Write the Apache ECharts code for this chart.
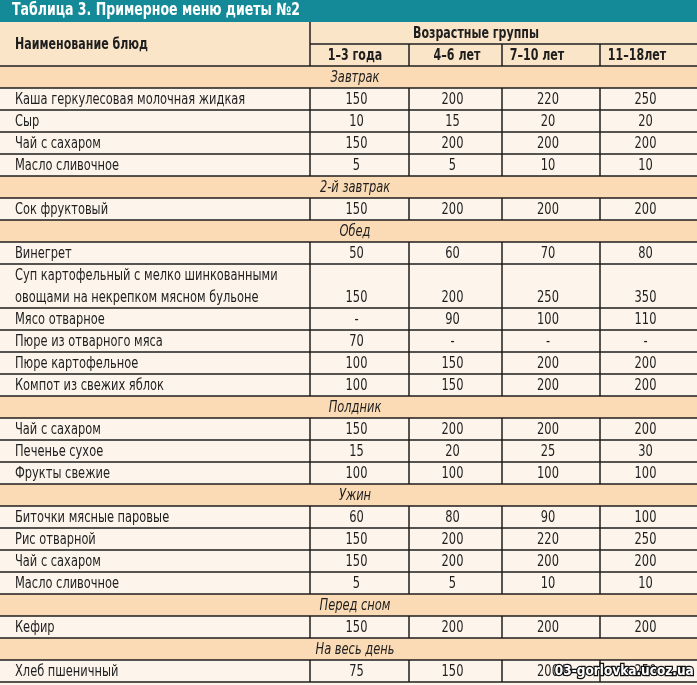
<!DOCTYPE html>
<html><head><meta charset="utf-8">
<script src="https://cdn.jsdelivr.net/npm/echarts@6/dist/echarts.min.js"></script>
<style>html,body{margin:0;padding:0;background:#fdf5ec}#c{width:697px;height:685px}</style>
</head><body><div id="c"></div>
<script>
// ---------- data ----------
const tableTitle = 'Таблица 3. Примерное меню диеты №2';
const nameHeader = 'Наименование блюд';
const groupHeader = 'Возрастные группы';
const ageGroups = ['1–3 года', '4–6 лет', '7–10 лет', '11–18лет'];
const sections = ['Завтрак', '2-й завтрак', 'Обед', 'Полдник', 'Ужин', 'Перед сном', 'На весь день'];
const dishesPerSection = [4, 1, 6, 3, 4, 1, 1];
const dishes = [
  'Каша геркулесовая молочная жидкая', 'Сыр', 'Чай с сахаром', 'Масло сливочное',
  'Сок фруктовый',
  'Винегрет', 'Суп картофельный с мелко шинкованными\nовощами на некрепком мясном бульоне', 'Мясо отварное',
  'Пюре из отварного мяса', 'Пюре картофельное', 'Компот из свежих яблок',
  'Чай с сахаром', 'Печенье сухое', 'Фрукты свежие',
  'Биточки мясные паровые', 'Рис отварной', 'Чай с сахаром', 'Масло сливочное',
  'Кефир',
  'Хлеб пшеничный'
];
const age1to3   = ['150', '10', '150', '5', '150', '50', '150', '-', '70', '100', '100', '150', '15', '100', '60', '150', '150', '5', '150', '75'];
const age4to6   = ['200', '15', '200', '5', '200', '60', '200', '90', '-', '150', '150', '200', '20', '100', '80', '200', '200', '5', '200', '150'];
const age7to10  = ['220', '20', '200', '10', '200', '70', '250', '100', '-', '200', '200', '200', '25', '100', '90', '220', '200', '10', '200', '200'];
const age11to18 = ['250', '20', '200', '10', '200', '80', '350', '110', '-', '200', '200', '200', '30', '100', '100', '250', '200', '10', '200', '250'];
const watermark = '03-gorlovka.ucoz.ua';

// ---------- layout ----------
const colEdges = [0, 310, 409, 502, 600, 697];
const headLabelX = [355, 457, 537, 637];
const groupHeaderX = 476;
const sectionX = 355;
const valueShift = -3;
const SX = 0.82;
const FONT = '"Liberation Sans Narrow", "DejaVu Sans Condensed", sans-serif';
const C = { title: '#148a98', head: '#fbe5c9', section: '#fadbb6', body: '#fdf5ec', line: '#1e1e1e', text: '#1e1e1e' };

const valueCols = [age1to3, age4to6, age7to10, age11to18];
const cells = [];
cells.push({ x0: 0, x1: 697, y0: 0, y1: 1, kind: 'title', text: tableTitle, tx: 12, align: 'left' });
cells.push({ x0: 0, x1: 310, y0: 1, y1: 3, kind: 'head', text: nameHeader, tx: 15, align: 'left', bold: true, lines: ['b'] });
cells.push({ x0: 310, x1: 697, y0: 1, y1: 2, kind: 'head', text: groupHeader, tx: groupHeaderX, align: 'center', bold: true, lines: ['b', 'l'] });
ageGroups.forEach((g, i) => cells.push({ x0: colEdges[i + 1], x1: colEdges[i + 2], y0: 2, y1: 3, kind: 'head', text: g, tx: headLabelX[i], align: 'center', bold: true, lines: ['b', 'l'] }));
let row = 3, di = 0;
sections.forEach((s, si) => {
  cells.push({ x0: 0, x1: 697, y0: row, y1: row + 1, kind: 'section', text: s, tx: sectionX, align: 'center', italic: true, lines: ['b'] });
  row += 1;
  for (let k = 0; k < dishesPerSection[si]; k++, di++) {
    const span = dishes[di].split('\n').length;
    cells.push({ x0: 0, x1: 310, y0: row, y1: row + span, kind: 'body', text: dishes[di], tx: 15, align: 'left', lines: ['b'] });
    valueCols.forEach((col, ci) => {
      const a = colEdges[ci + 1], b = colEdges[ci + 2];
      cells.push({ x0: a, x1: b, y0: row, y1: row + span, kind: 'body', text: col[di], tx: (a + b) / 2 + valueShift, ty: row + span - 0.5, align: 'center', lines: ['b', 'l'] });
    });
    row += span;
  }
});
const ROWS = row;

const cellData = cells.map(c => [c.x0, c.y0, c.x1, c.y1]);

function bgItem(params, api) {
  const c = cells[params.dataIndex];
  const p0 = api.coord([c.x0, c.y0]), p1 = api.coord([c.x1, c.y1]);
  return { type: 'rect', shape: { x: p0[0], y: p0[1], width: p1[0] - p0[0], height: p1[1] - p0[1] }, style: { fill: C[c.kind] } };
}
function fgItem(params, api) {
  const c = cells[params.dataIndex];
  const p0 = api.coord([c.x0, c.y0]), p1 = api.coord([c.x1, c.y1]);
  const children = [];
  (c.lines || []).forEach(l => {
    const shape = l === 'b' ? { x1: p0[0], y1: p1[1], x2: p1[0], y2: p1[1] } : { x1: p0[0], y1: p0[1], x2: p0[0], y2: p1[1] };
    children.push({ type: 'line', shape, style: { stroke: C.line, lineWidth: 1.5 } });
  });
  const tx = api.coord([c.tx, 0])[0];
  const ty = c.ty != null ? api.coord([0, c.ty])[1] : (p0[1] + p1[1]) / 2;
  let font, dy = 1;
  if (c.kind === 'title') { font = 'bold 17px ' + FONT; dy = 0; }
  else if (c.bold) font = 'bold 15px ' + FONT;
  else if (c.italic) font = 'italic 15.5px ' + FONT;
  else font = '15.5px ' + FONT;
  children.push({ type: 'text', x: tx, y: ty + dy, scaleX: SX, style: { text: c.text, font, fill: c.kind === 'title' ? '#ffffff' : C.text, align: c.align, verticalAlign: 'middle', lineHeight: 22 } });
  return { type: 'group', children };
}

const chart = echarts.init(document.getElementById('c'), null, { renderer: 'canvas' });
chart.setOption({
  animation: false,
  backgroundColor: C.body,
  grid: { left: 0, right: 0, top: 0, bottom: 685 - ROWS * 22 },
  xAxis: { type: 'value', min: 0, max: 697, show: false },
  yAxis: { type: 'value', min: 0, max: ROWS, inverse: true, show: false },
  series: [
    { type: 'custom', z: 1, renderItem: bgItem, data: cellData, encode: { x: [0, 2], y: [1, 3] }, silent: true, clip: false },
    { type: 'custom', z: 2, renderItem: fgItem, data: cellData, encode: { x: [0, 2], y: [1, 3] }, silent: true, clip: false }
  ],
  graphic: [{
    type: 'text', right: 2, top: 663, z: 100,
    style: { text: watermark, font: 'bold 13.5px ' + FONT, fill: '#ffffff', stroke: '#111111', lineWidth: 2.5 }
  }]
});
</script>
</body></html>
